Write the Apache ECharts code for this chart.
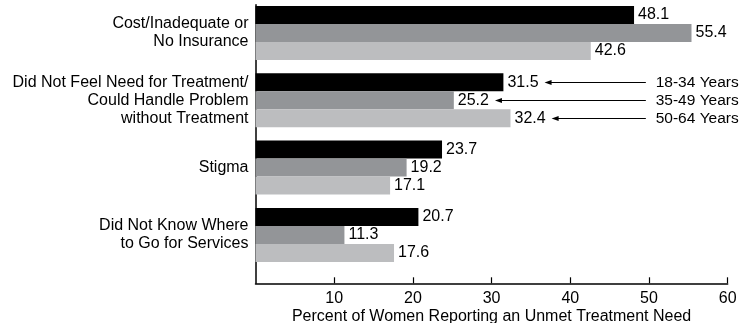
<!DOCTYPE html>
<html>
<head>
<meta charset="utf-8">
<script src="https://cdn.jsdelivr.net/npm/echarts@6/dist/echarts.min.js"></script>
<style>
  html, body { margin: 0; padding: 0; background: #fff; }
  #chart { width: 749px; height: 323px; }
</style>
</head>
<body>
<div id="chart"></div>
<script>
const categories = [
  'Cost/Inadequate or\nNo Insurance',
  'Did Not Feel Need for Treatment/\nCould Handle Problem\nwithout Treatment',
  'Stigma',
  'Did Not Know Where\nto Go for Services'
];
const ageGroups = ['18-34 Years', '35-49 Years', '50-64 Years'];
const young = [48.1, 31.5, 23.7, 20.7];
const middle = [55.4, 25.2, 19.2, 11.3];
const older = [42.6, 32.4, 17.1, 17.6];
const xTicks = [0, 10, 20, 30, 40, 50, 60];

const colors = ['#000000', '#939598', '#bcbdbf'];
const font = '"Liberation Sans", Arial, sans-serif';
const barW = 18;

const chart = echarts.init(document.getElementById('chart'), null, { renderer: 'canvas' });

function barSeries(name, data, i) {
  return {
    name: name,
    type: 'bar',
    xAxisIndex: 0,
    yAxisIndex: 0,
    data: data,
    barWidth: barW,
    barGap: '0%',
    itemStyle: { color: colors[i] },
    label: {
      show: true,
      position: 'right',
      distance: 4,
      color: '#000',
      fontSize: 16,
      fontFamily: font
    },
    silent: true
  };
}

const option = {
  animation: false,
  grid: [
    { left: 255.5, right: 21.3, top: -0.7, height: 269.3, outerBoundsMode: 'none' },
    { left: 255.5, right: 21.3, top: 4.7, bottom: 39.7, outerBoundsMode: 'none' }
  ],
  xAxis: [
    { gridIndex: 0, type: 'value', min: 0, max: 60, show: false },
    {
      gridIndex: 1, type: 'value', min: xTicks[0], max: xTicks[xTicks.length - 1], interval: 10,
      name: 'Percent of Women Reporting an Unmet Treatment Need',
      nameLocation: 'middle',
      nameGap: 25,
      nameMoveOverlap: false,
      nameTextStyle: { color: '#000', fontSize: 16, fontFamily: font },
      axisLine: { show: true, lineStyle: { color: '#000', width: 1.5 } },
      axisTick: { show: true, inside: true, length: 6, lineStyle: { color: '#000', width: 1.2 } },
      axisLabel: { showMinLabel: false, color: '#000', fontSize: 16, fontFamily: font, margin: 7 },
      splitLine: { show: false }
    }
  ],
  yAxis: [
    {
      gridIndex: 0, type: 'category', inverse: true, data: categories,
      axisLine: { show: false },
      axisTick: { show: false },
      axisLabel: { color: '#000', fontSize: 16, fontFamily: font, lineHeight: 18, margin: 7, align: 'right' }
    },
    {
      gridIndex: 1, type: 'value',
      axisLine: { show: true, lineStyle: { color: '#000', width: 1.5 } },
      axisTick: { show: false },
      axisLabel: { show: false },
      splitLine: { show: false }
    }
  ],
  series: [
    barSeries(ageGroups[0], young, 0),
    barSeries(ageGroups[1], middle, 1),
    barSeries(ageGroups[2], older, 2)
  ]
};

chart.setOption(option);

// age group call-outs on the second category, pointing at the value labels
const ctx = document.createElement('canvas').getContext('2d');
ctx.font = '16px ' + font;
const calloutCat = 1;
const groupData = [young, middle, older];
const graphics = [];
const lineEndX = chart.convertToPixel({ xAxisIndex: 0 }, 49.6);
const textRight = chart.convertToPixel({ xAxisIndex: 0 }, 60) + 11;
const catY = chart.convertToPixel({ yAxisIndex: 0 }, calloutCat);
groupData.forEach(function (arr, i) {
  const v = arr[calloutCat];
  const y = Math.round(catY + (i - 1) * barW) + 0.5;
  const barEnd = chart.convertToPixel({ xAxisIndex: 0 }, v);
  const tip = barEnd + 4 + ctx.measureText(String(v)).width + 6;
  graphics.push({
    type: 'line',
    shape: { x1: tip + 5, y1: y, x2: lineEndX, y2: y },
    style: { stroke: '#000', lineWidth: 1 },
    silent: true
  });
  graphics.push({
    type: 'polygon',
    shape: { points: [[tip, y], [tip + 7, y - 2.5], [tip + 7, y + 2.5]] },
    style: { fill: '#000' },
    silent: true
  });
  graphics.push({
    type: 'text',
    x: textRight,
    y: y,
    style: {
      text: ageGroups[i],
      fill: '#000',
      font: '15.5px ' + font,
      textAlign: 'right',
      textVerticalAlign: 'middle'
    },
    silent: true
  });
});
chart.setOption({ graphic: graphics });
</script>
</body>
</html>
